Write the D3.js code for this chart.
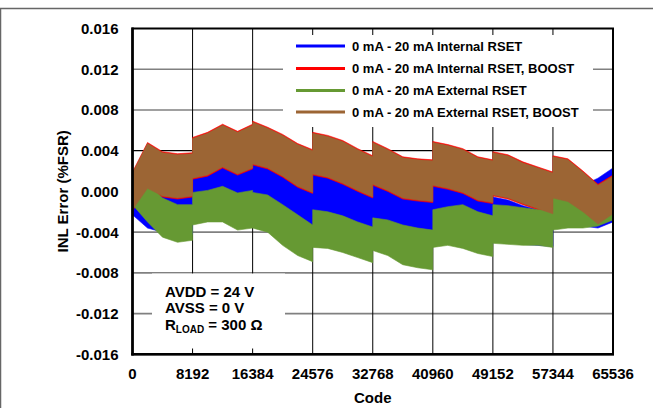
<!DOCTYPE html>
<html><head><meta charset="utf-8">
<script src="https://cdn.jsdelivr.net/npm/d3@7"></script>
<style>
html,body{margin:0;padding:0;background:#fff;}
svg text{font-family:"Liberation Sans",Arial,Helvetica,sans-serif;font-weight:bold;fill:#000;}
</style></head>
<body>
<svg id="chart" width="653" height="408"></svg>
<script>
// ---------- data ----------
const codes = [0,2048,4096,6144,8191, 8192,10240,12288,14336,16383, 16384,18432,20480,22528,24575,
  24576,26624,28672,30720,32767, 32768,34816,36864,38912,40959, 40960,43008,45056,47104,49151,
  49152,51200,53248,55296,57343, 57344,59392,61440,63488,65535];

// 0 mA - 20 mA Internal RSET (blue): upper / lower envelope of INL error (%FSR)
const intUpper = [0.0009,0.0009,0.0003,-0.0001,0.0001, 0.0021,0.0023,0.0031,0.0023,0.0028,
  0.0029,0.0024,0.0015,0.0007,0.0001, 0.0019,0.0016,0.0011,0.0004,-0.0001,
  0.0009,0.0005,-0.0001,-0.00045,-0.00085, 0.0009,0.0006,0.0001,-0.00065,-0.0011,
  -0.00055,-0.00085,-0.0014,-0.0018,-0.0022, -0.00085,-0.00035,0.0006,0.0013,0.0023];
const intLower = [-0.0023,-0.0036,-0.0040,-0.0044,-0.0042, -0.0022,-0.0020,-0.0012,-0.0020,-0.0015,
  -0.0014,-0.0019,-0.0028,-0.0036,-0.0042, -0.0024,-0.0027,-0.0032,-0.0039,-0.0044,
  -0.0034,-0.0038,-0.0044,-0.0048,-0.0052, -0.0034,-0.0037,-0.0042,-0.0048,-0.0051,
  -0.0045,-0.0048,-0.0052,-0.0053,-0.0054, -0.0036,-0.0034,-0.0034,-0.0036,-0.0030];

// 0 mA - 20 mA Internal RSET, BOOST (red)
const intBoostUpper = [0.0019,0.0048,0.0039,0.0037,0.0038, 0.0053,0.0058,0.0066,0.0059,0.0066,
  0.0069,0.0063,0.0056,0.0047,0.0041, 0.0058,0.0055,0.0050,0.0042,0.0035,
  0.0049,0.0042,0.0034,0.0032,0.0031, 0.0049,0.0046,0.0042,0.0034,0.0031,
  0.0039,0.0036,0.0029,0.0024,0.0019, 0.0035,0.0032,0.0020,0.0007,0.0016];
const intBoostLower = [-0.0019,0.0002,-0.00055,-0.00075,-0.00055, 0.0012,0.0015,0.0023,0.0016,0.0022,
  0.0026,0.0022,0.0014,0.0004,-0.0002, 0.0016,0.0013,0.0007,0.0000,-0.00065,
  0.0006,0.0000,-0.00075,-0.00095,-0.0011, 0.0005,0.0002,-0.0002,-0.00095,-0.0012,
  -0.00045,-0.00075,-0.0013,-0.0018,-0.0023, -0.00075,-0.0011,-0.0021,-0.0033,-0.0023];

// 0 mA - 20 mA External RSET (green)
const extUpper = [0.0001,0.0008,-0.00065,-0.0013,-0.0013, -0.0001,0.0001,0.0005,-0.00015,0.0001,
  -0.0001,-0.00035,-0.0013,-0.0023,-0.0033, -0.0018,-0.0020,-0.0024,-0.0030,-0.0035,
  -0.0026,-0.0028,-0.0033,-0.0036,-0.0038, -0.0018,-0.0015,-0.0013,-0.0020,-0.0024,
  -0.0013,-0.0014,-0.0016,-0.0018,-0.0018, -0.00015,-0.00035,-0.00085,-0.0010,0.0006];
const extLower = [-0.0013,-0.0030,-0.0045,-0.0050,-0.0048, -0.0033,-0.0030,-0.0030,-0.0038,-0.0036,
  -0.0036,-0.0040,-0.0053,-0.0063,-0.0069, -0.0055,-0.0056,-0.0060,-0.0065,-0.0070,
  -0.0058,-0.0063,-0.0072,-0.0075,-0.0077, -0.0055,-0.0053,-0.0056,-0.0061,-0.0064,
  -0.0051,-0.0052,-0.0053,-0.0053,-0.0055, -0.0038,-0.0036,-0.0036,-0.0034,-0.0028];

// 0 mA - 20 mA External RSET, BOOST (brown)
const extBoostUpper = [0.0018,0.0047,0.0038,0.0036,0.0037, 0.0052,0.0057,0.0065,0.0058,0.0065,
  0.0068,0.0062,0.0055,0.0046,0.0040, 0.0057,0.0054,0.0049,0.0041,0.0034,
  0.0048,0.0041,0.0033,0.0031,0.0030, 0.0048,0.0045,0.0041,0.0033,0.0030,
  0.0038,0.0035,0.0028,0.0023,0.0018, 0.0034,0.0031,0.0019,0.0006,0.0015];
const extBoostLower = [-0.0018,0.0003,-0.00045,-0.00065,-0.00045, 0.0013,0.0016,0.0024,0.0017,0.0023,
  0.0027,0.0023,0.0015,0.0005,-0.0001, 0.0017,0.0014,0.0008,0.0001,-0.00055,
  0.0007,0.0001,-0.00065,-0.00085,-0.0010, 0.0006,0.0003,-0.0001,-0.00085,-0.0011,
  -0.00035,-0.00065,-0.0012,-0.0017,-0.0022, -0.00065,-0.0010,-0.0020,-0.0032,-0.0022];

const seriesNames = ["0 mA - 20 mA Internal RSET","0 mA - 20 mA Internal RSET, BOOST",
  "0 mA - 20 mA External RSET","0 mA - 20 mA External RSET, BOOST"];
const seriesColors = ["#0000ff","#ff0000","#669933","#9c6534"];
const xTicks = [0,8192,16384,24576,32768,40960,49152,57344,65536];
const yTicks = [-0.016,-0.012,-0.008,-0.004,0,0.004,0.008,0.012,0.016];
const yTickLabels = ["-0.016","-0.012","-0.008","-0.004","0.000","0.004","0.008","0.012","0.016"];
const notes = ["AVDD = 24 V","AVSS = 0 V"];

// ---------- drawing ----------
const svg = d3.select("#chart");
const L=132.5, R=613, T=28.5, B=354.3;
const x = d3.scaleLinear().domain([0,65536]).range([L,R]);
const y = d3.scaleLinear().domain([-0.016,0.016]).range([B,T]);

// outer frame of figure
svg.append("line").attr("x1",0).attr("x2",653).attr("y1",8.5).attr("y2",8.5).attr("stroke","#666").attr("stroke-width",1.5);
svg.append("line").attr("x1",0.5).attr("x2",0.5).attr("y1",8).attr("y2",408).attr("stroke","#666").attr("stroke-width",1.5);

// grid
const g = svg.append("g");
yTicks.slice(1,-1).forEach(t=>{
  g.append("line").attr("x1",L).attr("x2",R).attr("y1",y(t)).attr("y2",y(t))
   .attr("stroke", t===0.004 ? "#000" : "#808080").attr("stroke-width", t===0.004 ? 1.2 : 1.6);
});
xTicks.slice(1,-1).forEach(t=>{
  g.append("line").attr("x1",x(t)).attr("x2",x(t)).attr("y1",T).attr("y2",B)
   .attr("stroke","#000").attr("stroke-width",1);
});

// data bands
const bands = [
  [intUpper,intLower],[intBoostUpper,intBoostLower],[extUpper,extLower],[extBoostUpper,extBoostLower]
];
const area = d3.area().x((d,i)=>x(codes[i])).y0(d=>y(d[1])).y1(d=>y(d[0]));
bands.forEach((b,k)=>{
  const pts = codes.map((c,i)=>[b[0][i],b[1][i]]);
  svg.append("path").datum(pts).attr("d",area).attr("fill",seriesColors[k])
    .attr("stroke",seriesColors[k]).attr("stroke-width",0.6);
});

// legend box
svg.append("rect").attr("x",283).attr("y",35).attr("width",310).attr("height",92).attr("fill","#fff");
const legY = [46,68.5,90.5,112];
seriesNames.forEach((n,i)=>{
  svg.append("line").attr("x1",296).attr("x2",345).attr("y1",legY[i]).attr("y2",legY[i])
    .attr("stroke",seriesColors[i]).attr("stroke-width",3);
  svg.append("text").attr("x",352).attr("y",legY[i]).attr("dy","0.35em")
    .attr("font-size","13px").text(n);
});

// annotation box
svg.append("rect").attr("x",152).attr("y",273.5).attr("width",133).attr("height",75).attr("fill","#fff");
const noteY = [296.5,313.3];
notes.forEach((n,i)=>{
  svg.append("text").attr("x",165).attr("y",noteY[i]).attr("font-size","15px").text(n);
});
const rl = svg.append("text").attr("x",165).attr("y",330).attr("font-size","15px");
rl.append("tspan").text("R");
rl.append("tspan").attr("font-size","10px").attr("dy",3).text("LOAD");
rl.append("tspan").attr("dy",-3).text(" = 300 Ω");

// plot border
svg.append("rect").attr("x",L).attr("y",T).attr("width",R-L).attr("height",B-T)
  .attr("fill","none").attr("stroke","#000").attr("stroke-width",2);
svg.append("line").attr("x1",L).attr("x2",L).attr("y1",T-1).attr("y2",B+1.3).attr("stroke","#000").attr("stroke-width",2.6);
svg.append("line").attr("x1",L-1.3).attr("x2",R+1).attr("y1",B).attr("y2",B).attr("stroke","#000").attr("stroke-width",2.6);

// tick labels
yTicks.forEach((t,i)=>{
  svg.append("text").attr("x",118.5).attr("y",y(t)).attr("dy","0.36em").attr("text-anchor","end")
    .attr("font-size","15px").text(yTickLabels[i]);
});
xTicks.forEach(t=>{
  svg.append("text").attr("x",x(t)).attr("y",378.5).attr("text-anchor","middle")
    .attr("font-size","15px").text(d3.format("d")(t));
});
svg.append("text").attr("x",(L+R)/2).attr("y",403).attr("text-anchor","middle").attr("font-size","15px").text("Code");
svg.append("text").attr("transform",`translate(68,${(T+B)/2}) rotate(-90)`).attr("text-anchor","middle")
  .attr("font-size","15px").text("INL Error (%FSR)");
</script>
</body></html>
